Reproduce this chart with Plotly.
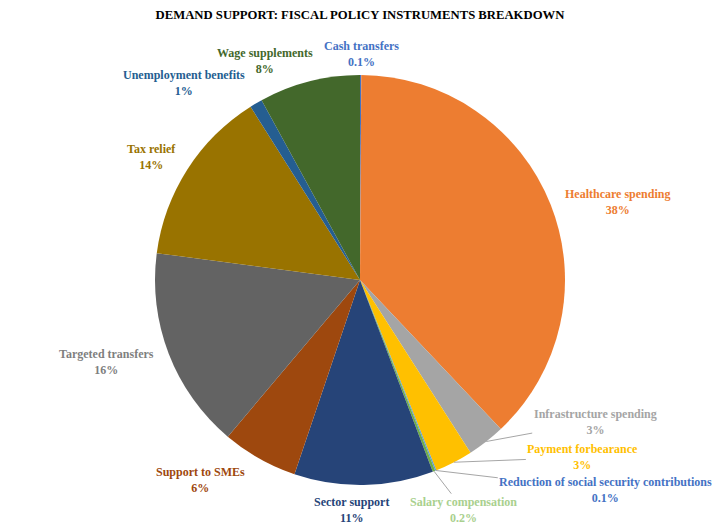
import math
import plotly.graph_objects as go

categories = [
    "Cash transfers", "Healthcare spending", "Infrastructure spending",
    "Payment forbearance", "Reduction of social security contributions",
    "Salary compensation", "Sector support", "Support to SMEs",
    "Targeted transfers", "Tax relief", "Unemployment benefits",
    "Wage supplements",
]
values = [0.1, 38, 3, 3, 0.1, 0.2, 11, 6, 16, 14, 1, 8]
colors = [
    "#4472C4", "#ED7D31", "#A5A5A5", "#FFC000", "#5B9BD5", "#70AD47",
    "#264478", "#9E480E", "#636363", "#997300", "#255E91", "#43682B",
]
text_colors = [
    "#4472C4", "#ED7D31", "#A5A5A5", "#FFC000", "#4472C4", "#A9D08E",
    "#264478", "#9E480E", "#7F7F7F", "#997300", "#255E91", "#43682B",
]

W, H = 720, 526
M = dict(l=0, r=16, t=67, b=49)
pw, ph = W - M["l"] - M["r"], H - M["t"] - M["b"]
R = min(pw, ph) / 2
FONT = "Liberation Serif"

# label placement: pixel offset of the label centre from the slice's outer
# mid-point, and whether a leader line is drawn
label_layout = {
    "Cash transfers": (1, -21, False),
    "Healthcare spending": (67, -3, False),
    "Infrastructure spending": (109, -20, True),
    "Payment forbearance": (129, -5, True),
    "Reduction of social security contributions": (170, 20, True),
    "Salary compensation": (30, 39, True),
    "Sector support": (-12, 25, False),
    "Support to SMEs": (-59, 21, False),
    "Targeted transfers": (-62, 8, False),
    "Tax relief": (-36, -12, False),
    "Unemployment benefits": (-72, -20, False),
    "Wage supplements": (-44, -20, False),
}

fig = go.Figure(go.Pie(
    labels=categories,
    values=values,
    sort=False,
    direction="clockwise",
    rotation=0,
    marker=dict(colors=colors, line=dict(width=0)),
    textinfo="none",
    showlegend=False,
    hoverinfo="label+value",
    automargin=False,
))

total = sum(values)
cum = 0.0
annotations = []
for cat, val, tc in zip(categories, values, text_colors):
    mid = (cum + val / 2) / total
    cum += val
    th = 2 * math.pi * mid
    xp = 0.5 + (R / pw) * math.sin(th)
    yp = 0.5 + (R / ph) * math.cos(th)
    dx, dy, arrow = label_layout[cat]
    txt = f"<b>{cat}</b><br><b>{val}%</b>"
    font = dict(family=FONT, size=12, color=tc)
    if arrow:
        annotations.append(dict(
            x=xp, y=yp, xref="paper", yref="paper", text=txt,
            showarrow=True, arrowhead=0, arrowwidth=1, arrowcolor="#A6A6A6",
            ax=dx, ay=dy, standoff=0, font=font,
        ))
    else:
        annotations.append(dict(
            x=xp, y=yp, xref="paper", yref="paper", text=txt,
            showarrow=False, xanchor="center", yanchor="middle",
            xshift=dx, yshift=-dy, font=font,
        ))

fig.update_layout(
    width=W, height=H,
    margin=dict(**M, autoexpand=False),
    paper_bgcolor="white",
    annotations=annotations,
    title=dict(
        text="<b>DEMAND SUPPORT: FISCAL POLICY INSTRUMENTS BREAKDOWN</b>",
        x=0.5, xref="paper", xanchor="center", y=0.987, yanchor="middle",
        font=dict(family=FONT, size=12.7, color="black"),
    ),
)

fig.write_html("out.html")
